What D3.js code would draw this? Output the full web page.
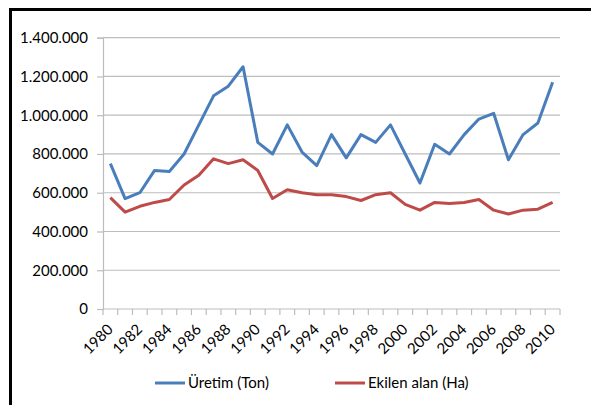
<!DOCTYPE html>
<html>
<head>
<meta charset="utf-8">
<script src="https://cdn.jsdelivr.net/npm/d3@7"></script>
<style>
  body { margin: 0; background: #fff; }
  svg text { font-family: Lato, "Liberation Sans", sans-serif; fill: #000; }
</style>
</head>
<body>
<svg id="chart" width="591" height="405"></svg>
<script>
// years on the category axis
const years = d3.range(1980, 2011);
// Üretim (Ton)
const uretim = [750000, 570000, 600000, 715000, 710000, 800000, 950000, 1100000, 1150000, 1250000,
  860000, 800000, 950000, 810000, 740000, 900000, 780000, 900000, 860000, 950000,
  800000, 650000, 850000, 800000, 900000, 980000, 1010000, 770000, 900000, 960000, 1170000];
// Ekilen alan (Ha)
const ekilen = [575000, 500000, 530000, 550000, 565000, 640000, 690000, 775000, 750000, 770000,
  715000, 570000, 615000, 600000, 590000, 590000, 580000, 560000, 590000, 600000,
  540000, 510000, 550000, 545000, 550000, 565000, 510000, 490000, 510000, 515000, 550000];
const yTicks = [0, 200000, 400000, 600000, 800000, 1000000, 1200000, 1400000];
const seriesNames = ["Üretim (Ton)", "Ekilen alan (Ha)"];
const seriesColors = ["#4a7ebb", "#be4b48"];

const svg = d3.select("#chart");
const plotLeft = 103, plotRight = 560, plotTop = 37.7, plotBottom = 309;

// frame (left + top edge only, as in the picture)
svg.append("rect").attr("x", 9).attr("y", 8).attr("width", 600).attr("height", 3).attr("fill", "#000");
svg.append("rect").attr("x", 9).attr("y", 8).attr("width", 3).attr("height", 420).attr("fill", "#000");

const x = d3.scaleBand().domain(years).range([plotLeft, plotRight]);
const y = d3.scaleLinear().domain([0, 1400000]).range([plotBottom, plotTop]);
const fmt = d => d3.format(",")(d).replace(/,/g, ".");

// gridlines
svg.append("g").selectAll("line").data(yTicks.slice(1)).enter().append("line")
  .attr("x1", plotLeft).attr("x2", plotRight)
  .attr("y1", d => y(d)).attr("y2", d => y(d))
  .attr("stroke", "#bdbdbd").attr("stroke-width", 1.2);

// y axis
const yAxis = svg.append("g").attr("transform", "translate(" + plotLeft + ",0)")
  .call(d3.axisLeft(y).tickValues(yTicks).tickFormat(fmt).tickSize(6).tickPadding(9));
yAxis.select(".domain").attr("stroke", "#bdbdbd").attr("stroke-width", 1.2);
yAxis.selectAll(".tick line").attr("stroke", "#bdbdbd").attr("stroke-width", 1.2);
yAxis.selectAll("text").attr("font-size", 15).attr("fill", "#000")
  .style("font-family", "Lato, 'Liberation Sans', sans-serif");

// x axis: ticks at band edges
const xAxis = svg.append("g").attr("transform", "translate(0," + plotBottom + ")");
xAxis.append("line").attr("x1", plotLeft).attr("x2", plotRight).attr("stroke", "#bdbdbd").attr("stroke-width", 1.2);
const edges = years.map(d => x(d)).concat([plotRight]);
xAxis.selectAll(".edge").data(edges).enter().append("line")
  .attr("x1", d => d).attr("x2", d => d).attr("y1", 0).attr("y2", 6)
  .attr("stroke", "#bdbdbd").attr("stroke-width", 1.2);
xAxis.selectAll(".lbl").data(years.filter(d => d % 2 === 0)).enter().append("text")
  .attr("transform", d => "translate(" + (x(d) + x.bandwidth() / 2 - 4) + ",14) rotate(-45)")
  .attr("text-anchor", "end").attr("dy", "0.7em").attr("font-size", 15)
  .text(d => d);

// lines
const line = d3.line().x((d, i) => x(years[i]) + x.bandwidth() / 2).y(d => y(d));
[uretim, ekilen].forEach((s, k) => {
  svg.append("path").datum(s).attr("d", line)
    .attr("fill", "none").attr("stroke", seriesColors[k])
    .attr("stroke-width", 3).attr("stroke-linejoin", "round");
});

// legend
const legendX = [155, 335];
seriesNames.forEach((n, k) => {
  const g = svg.append("g").attr("transform", "translate(" + legendX[k] + ",383)");
  g.append("line").attr("x1", 0).attr("x2", 30).attr("stroke", seriesColors[k]).attr("stroke-width", 3);
  g.append("text").attr("x", 33).attr("dy", "0.35em").attr("font-size", 15).text(n);
});
</script>
</body>
</html>
